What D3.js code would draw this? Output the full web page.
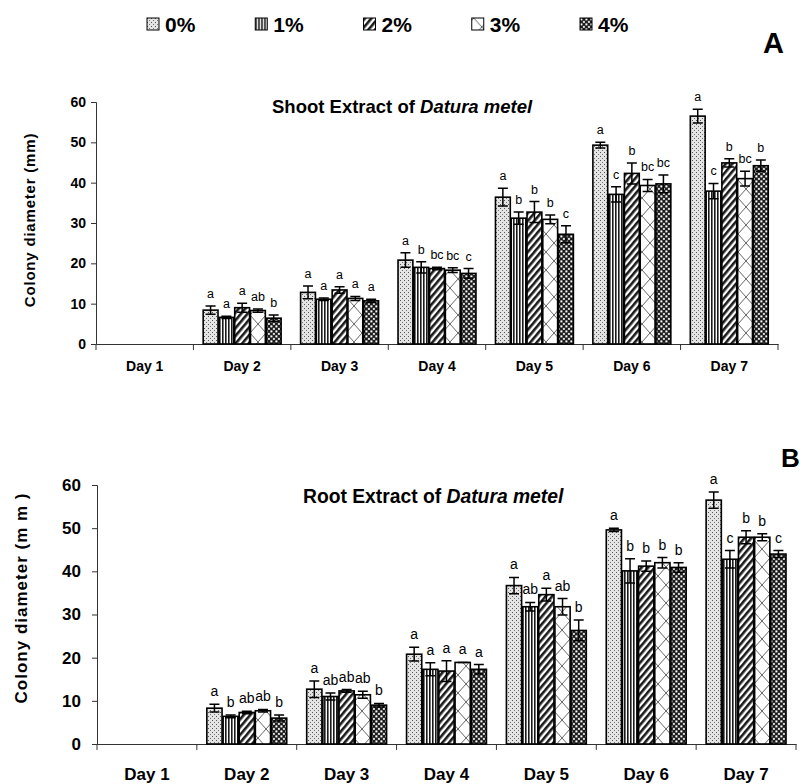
<!DOCTYPE html>
<html>
<head>
<meta charset="utf-8">
<script src="https://d3js.org/d3.v7.min.js"></script>
<style>
  html, body { margin: 0; padding: 0; background: #fff; }
  svg text { font-family: Arial, "Liberation Sans", sans-serif; fill: #000; }
</style>
</head>
<body>
<svg id="chart" width="800" height="784"></svg>
<script>
// Days on the x axis and extract concentrations (series)
const days = ["Day 1", "Day 2", "Day 3", "Day 4", "Day 5", "Day 6", "Day 7"];
const concentrations = ["0%", "1%", "2%", "3%", "4%"];
const yTicks = [0, 10, 20, 30, 40, 50, 60];

// Shoot extract: mean colony diameter (mm) per concentration, per day
const shoot0 = [0, 8.4, 12.8, 20.8, 36.4, 49.3, 56.5];
const shoot1 = [0, 6.6, 11.1, 19.0, 31.2, 37.1, 37.9];
const shoot2 = [0, 9.0, 13.4, 18.7, 32.7, 42.3, 44.9];
const shoot3 = [0, 8.3, 11.3, 18.3, 30.9, 39.3, 41.0];
const shoot4 = [0, 6.4, 10.7, 17.5, 27.2, 39.7, 44.2];
// Shoot extract: standard errors
const shootErr0 = [0, 1.0, 1.6, 1.8, 2.2, 0.7, 1.7];
const shootErr1 = [0, 0.3, 0.3, 1.4, 1.5, 1.9, 1.9];
const shootErr2 = [0, 1.1, 0.8, 0.3, 2.6, 2.6, 1.0];
const shootErr3 = [0, 0.4, 0.5, 0.6, 1.1, 1.5, 1.8];
const shootErr4 = [0, 0.8, 0.4, 1.2, 2.1, 2.2, 1.4];
// Shoot extract: significance letters
const shootSig0 = ["", "a", "a", "a", "a", "a", "a"];
const shootSig1 = ["", "a", "a", "b", "b", "c", "c"];
const shootSig2 = ["", "a", "a", "bc", "b", "b", "b"];
const shootSig3 = ["", "ab", "a", "bc", "b", "bc", "bc"];
const shootSig4 = ["", "b", "a", "c", "c", "bc", "b"];

// Root extract: mean colony diameter (mm)
const root0 = [0, 8.3, 12.7, 20.8, 36.7, 49.6, 56.5];
const root1 = [0, 6.4, 11.0, 17.3, 31.8, 40.1, 42.8];
const root2 = [0, 7.3, 12.3, 16.9, 34.6, 41.2, 47.9];
const root3 = [0, 7.7, 11.4, 18.9, 31.8, 42.0, 47.9];
const root4 = [0, 6.0, 9.0, 17.3, 26.3, 40.9, 44.0];
// Root extract: standard errors
const rootErr0 = [0, 0.9, 1.9, 1.6, 1.9, 0.4, 1.9];
const rootErr1 = [0, 0.3, 0.8, 1.5, 1.0, 2.8, 2.0];
const rootErr2 = [0, 0.3, 0.3, 2.4, 1.5, 1.2, 1.5];
const rootErr3 = [0, 0.3, 0.8, 0.0, 1.9, 1.2, 0.8];
const rootErr4 = [0, 0.7, 0.4, 1.1, 2.4, 1.1, 0.8];
// Root extract: significance letters
const rootSig0 = ["", "a", "a", "a", "a", "a", "a"];
const rootSig1 = ["", "b", "ab", "a", "ab", "b", "c"];
const rootSig2 = ["", "ab", "ab", "a", "a", "b", "b"];
const rootSig3 = ["", "ab", "ab", "a", "ab", "b", "b"];
const rootSig4 = ["", "b", "b", "a", "b", "b", "c"];

const svg = d3.select("#chart");
const defs = svg.append("defs");

// ---- fill patterns, one per concentration ----
function makePatterns() {
  // 0%: light stipple
  const p0 = defs.append("pattern").attr("id", "pat0")
    .attr("patternUnits", "userSpaceOnUse").attr("width", 4).attr("height", 4);
  p0.append("rect").attr("width", 4).attr("height", 4).attr("fill", "#e4e4e4");
  p0.append("rect").attr("x", 0).attr("y", 0).attr("width", 1).attr("height", 1).attr("fill", "#555");
  p0.append("rect").attr("x", 2).attr("y", 2).attr("width", 1).attr("height", 1).attr("fill", "#777");

  // 1%: dense vertical stripes
  const p1 = defs.append("pattern").attr("id", "pat1")
    .attr("patternUnits", "userSpaceOnUse").attr("width", 3).attr("height", 3);
  p1.append("rect").attr("width", 3).attr("height", 3).attr("fill", "#fff");
  p1.append("rect").attr("x", 0).attr("y", 0).attr("width", 1.6).attr("height", 3).attr("fill", "#1a1a1a");

  // 2%: wide forward diagonal hatch
  const p2 = defs.append("pattern").attr("id", "pat2")
    .attr("patternUnits", "userSpaceOnUse").attr("width", 5).attr("height", 5)
    .attr("patternTransform", "rotate(40)");
  p2.append("rect").attr("width", 5).attr("height", 5).attr("fill", "#fff");
  p2.append("rect").attr("x", 0).attr("y", 0).attr("width", 2.6).attr("height", 5).attr("fill", "#1a1a1a");

  // 3%: open trellis of thin diagonals
  const p3 = defs.append("pattern").attr("id", "pat3")
    .attr("patternUnits", "userSpaceOnUse").attr("width", 16).attr("height", 18)
    .attr("x", 2);
  p3.append("rect").attr("width", 16).attr("height", 18).attr("fill", "#fff");
  p3.append("path").attr("d", "M0,0L16,18M16,0L0,18")
    .attr("stroke", "#555").attr("stroke-width", 0.9).attr("fill", "none");

  // 4%: dark checker with light dots
  const p4 = defs.append("pattern").attr("id", "pat4")
    .attr("patternUnits", "userSpaceOnUse").attr("width", 5).attr("height", 5);
  p4.append("rect").attr("width", 5).attr("height", 5).attr("fill", "#1c1c1c");
  p4.append("rect").attr("x", 0.4).attr("y", 0.4).attr("width", 2).attr("height", 2).attr("fill", "#fff");
  p4.append("rect").attr("x", 2.9).attr("y", 2.9).attr("width", 2).attr("height", 2).attr("fill", "#ddd");
}
makePatterns();
const patternIds = ["pat0", "pat1", "pat2", "pat3", "pat4"];

// ---- legend ----
const legendX = d3.scalePoint().domain(concentrations).range([147, 580]);
const legend = svg.append("g");
concentrations.forEach((c, i) => {
  const g = legend.append("g").attr("transform", `translate(${legendX(c)},18)`);
  g.append("rect").attr("width", 12).attr("height", 12)
    .attr("fill", `url(#${patternIds[i]})`).attr("stroke", "#000").attr("stroke-width", 1);
  g.append("text").attr("x", 18).attr("y", 13.5)
    .attr("font-size", 21).attr("font-weight", "bold").text(c);
});

// ---- panel drawing ----
function drawPanel(cfg) {
  const g = svg.append("g");
  const x = d3.scaleBand().domain(days).range([cfg.left, cfg.right]).padding(0);
  const y = d3.scaleLinear().domain([0, 60]).range([cfg.bottom, cfg.top]);
  const inner = d3.scaleBand().domain(concentrations)
    .range([x.bandwidth() * 0.1, x.bandwidth() * 0.9]).paddingInner(0.06);

  // y axis
  const yAxis = g.append("g").attr("transform", `translate(${cfg.left},0)`)
    .call(d3.axisLeft(y).tickValues(yTicks).tickSize(cfg.tickLen).tickPadding(cfg.yPad));
  yAxis.select(".domain").attr("stroke", "#333");
  yAxis.selectAll(".tick line").attr("stroke", "#333");
  yAxis.selectAll(".tick text").attr("font-size", cfg.tickFont).attr("font-weight", "bold")
    .attr("font-family", "Arial, 'Liberation Sans', sans-serif").attr("fill", "#000");

  // x axis with ticks on the boundaries between day groups
  const xAxis = g.append("g").attr("transform", `translate(0,${cfg.bottom})`)
    .call(d3.axisBottom(x).tickSize(0).tickPadding(cfg.xPad));
  xAxis.select(".domain").attr("stroke", "#333");
  xAxis.selectAll(".tick text").attr("font-size", cfg.dayFont).attr("font-weight", "bold")
    .attr("font-family", "Arial, 'Liberation Sans', sans-serif").attr("fill", "#000");
  const bounds = days.map(d => x(d)).concat([x(days[days.length - 1]) + x.bandwidth()]);
  xAxis.selectAll("line.bound").data(bounds).join("line").attr("class", "bound")
    .attr("x1", d => d).attr("x2", d => d).attr("y1", 0).attr("y2", cfg.tickLen + 1)
    .attr("stroke", "#333");

  // bars, error bars and letters per concentration
  cfg.means.forEach((vals, si) => {
    const sg = g.append("g");
    const c = concentrations[si];
    const recs = days.map((d, di) => ({
      day: d, v: vals[di], e: cfg.errs[si][di], s: cfg.sigs[si][di]
    }));
    sg.selectAll("rect").data(recs).join("rect")
      .attr("x", d => x(d.day) + inner(c))
      .attr("width", inner.bandwidth())
      .attr("y", d => y(d.v))
      .attr("height", d => y(0) - y(d.v))
      .attr("fill", `url(#${patternIds[si]})`)
      .attr("stroke", "#000").attr("stroke-width", 1.6);

    const eb = recs.filter(d => d.v > 0);
    const cx = d => x(d.day) + inner(c) + inner.bandwidth() / 2;
    const capW = 5;
    sg.selectAll("path.err").data(eb).join("path").attr("class", "err")
      .attr("d", d => {
        const x0 = cx(d), y1 = y(d.v + d.e), y2 = y(d.v - d.e);
        return `M${x0},${y1}V${y2}M${x0 - capW},${y1}H${x0 + capW}M${x0 - capW},${y2}H${x0 + capW}`;
      })
      .attr("stroke", "#000").attr("stroke-width", 1.5).attr("fill", "none");

    sg.selectAll("text.sig").data(eb).join("text").attr("class", "sig")
      .attr("x", d => cx(d)).attr("y", d => y(d.v + d.e) - cfg.sigGap)
      .attr("text-anchor", "middle").attr("font-size", cfg.sigFont)
      .text(d => d.s);
  });

  // panel title
  const t = g.append("text").attr("x", cfg.titleX).attr("y", cfg.titleY)
    .attr("font-size", cfg.titleFont).attr("font-weight", "bold");
  t.append("tspan").text(cfg.title + " of ");
  t.append("tspan").attr("font-style", "italic").text("Datura metel");

  // y axis title
  g.append("text")
    .attr("transform", `translate(${cfg.yLabelX},${cfg.yLabelY}) rotate(-90)`)
    .attr("text-anchor", "middle").attr("font-size", cfg.yLabelFont)
    .attr("font-weight", "bold").attr("letter-spacing", cfg.yLabelSpacing)
    .text(cfg.yLabel);

  // panel letter
  g.append("text").attr("x", cfg.tagX).attr("y", cfg.tagY)
    .attr("font-size", cfg.tagFont).attr("font-weight", "bold").text(cfg.tag);
}

drawPanel({
  left: 96, right: 778, top: 102, bottom: 344,
  means: [shoot0, shoot1, shoot2, shoot3, shoot4],
  errs: [shootErr0, shootErr1, shootErr2, shootErr3, shootErr4],
  sigs: [shootSig0, shootSig1, shootSig2, shootSig3, shootSig4],
  tickLen: 5, yPad: 5, xPad: 17, tickFont: 14, dayFont: 14,
  sigFont: 12.5, sigGap: 8,
  title: "Shoot Extract", titleX: 272, titleY: 113, titleFont: 18.5,
  yLabel: "Colony diameter (mm)", yLabelX: 35, yLabelY: 220, yLabelFont: 15, yLabelSpacing: 0.8,
  tag: "A", tagX: 763, tagY: 53, tagFont: 29
});

drawPanel({
  left: 97, right: 796, top: 485, bottom: 744,
  means: [root0, root1, root2, root3, root4],
  errs: [rootErr0, rootErr1, rootErr2, rootErr3, rootErr4],
  sigs: [rootSig0, rootSig1, rootSig2, rootSig3, rootSig4],
  tickLen: 5, yPad: 11, xPad: 24, tickFont: 17, dayFont: 17,
  sigFont: 14, sigGap: 8,
  title: "Root Extract", titleX: 303, titleY: 503, titleFont: 19.3,
  yLabel: "Colony diameter (m m )", yLabelX: 27, yLabelY: 598, yLabelFont: 17, yLabelSpacing: 1.0,
  tag: "B", tagX: 781, tagY: 467, tagFont: 26
});
</script>
</body>
</html>
